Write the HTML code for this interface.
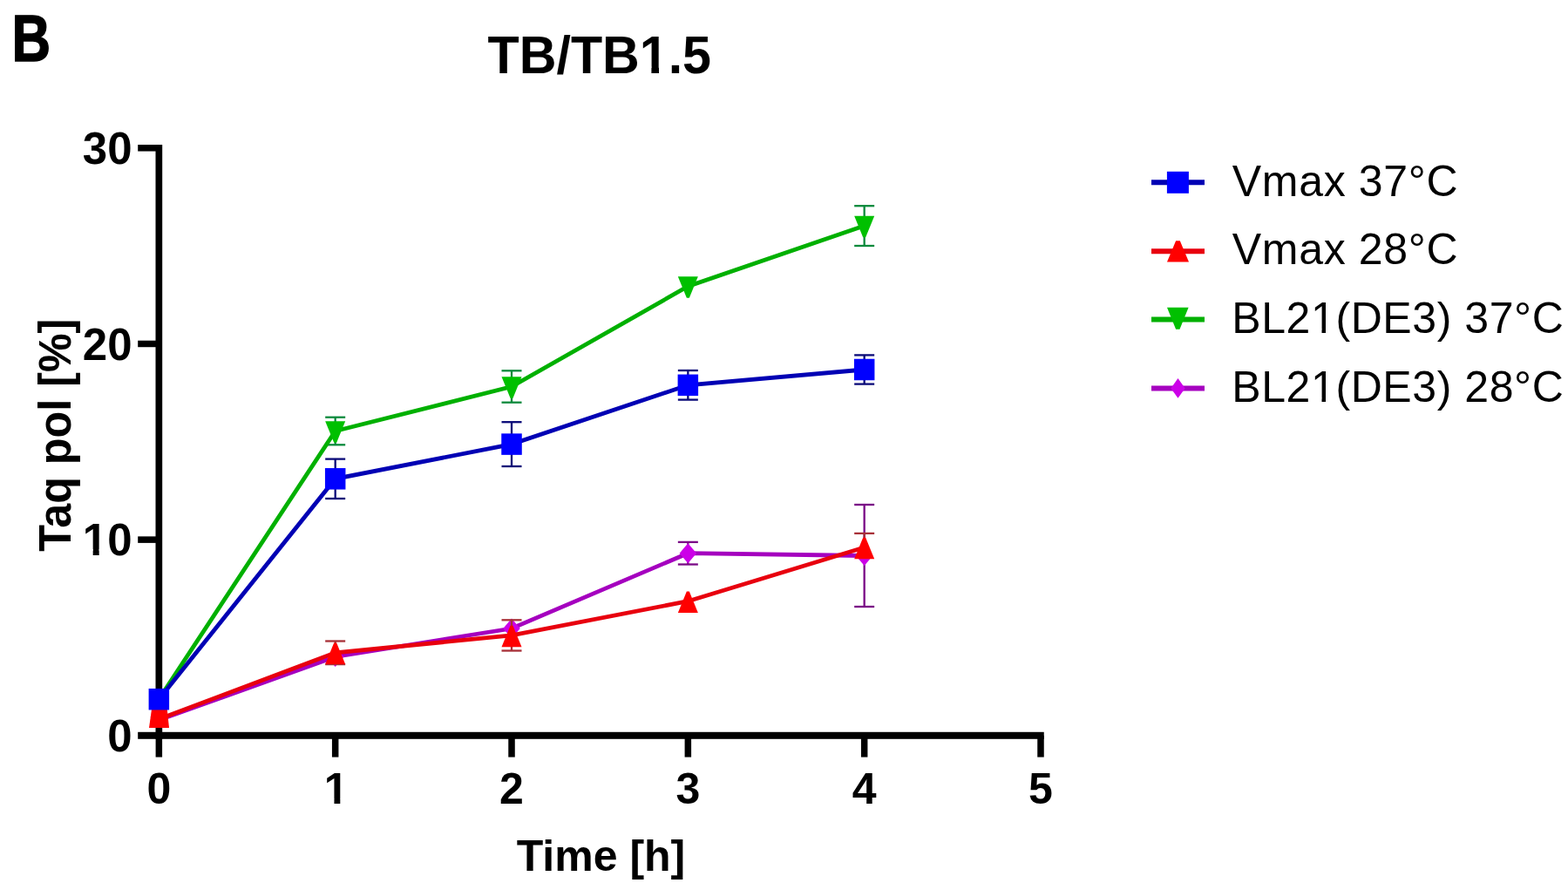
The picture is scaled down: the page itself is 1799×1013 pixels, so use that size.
<!DOCTYPE html><html><head><meta charset="utf-8"><title>TB/TB1.5</title><style>
html,body{margin:0;padding:0;background:#fff;width:1799px;height:1013px;overflow:hidden}
svg{position:absolute;left:0;top:0}
text{font-family:"Liberation Sans", Arial, sans-serif}
</style></head><body>
<svg width="1799" height="1013" viewBox="0 0 1799 1013">
<rect width="1799" height="1013" fill="#fff"/>
<rect x="178.50" y="166.04" width="7.70" height="681.76" fill="#000"/>
<rect x="158.20" y="839.80" width="1039.55" height="8.00" fill="#000"/>
<rect x="158.20" y="615.38" width="24.15" height="7.50" fill="#000"/>
<rect x="158.20" y="390.71" width="24.15" height="7.50" fill="#000"/>
<rect x="158.20" y="166.04" width="24.15" height="7.50" fill="#000"/>
<rect x="178.60" y="843.80" width="7.50" height="24.80" fill="#000"/>
<rect x="380.93" y="843.80" width="7.50" height="24.80" fill="#000"/>
<rect x="583.26" y="843.80" width="7.50" height="24.80" fill="#000"/>
<rect x="785.59" y="843.80" width="7.50" height="24.80" fill="#000"/>
<rect x="987.92" y="843.80" width="7.50" height="24.80" fill="#000"/>
<rect x="1190.25" y="843.80" width="7.50" height="24.80" fill="#000"/>
<g stroke="#7a0a86" stroke-width="2.30" fill="none">
<line x1="789.34" y1="621.90" x2="789.34" y2="647.50"/>
<line x1="777.84" y1="621.90" x2="800.84" y2="621.90"/>
<line x1="777.84" y1="647.50" x2="800.84" y2="647.50"/>
</g>
<g stroke="#7a0a86" stroke-width="2.30" fill="none">
<line x1="991.67" y1="579.00" x2="991.67" y2="696.00"/>
<line x1="980.17" y1="579.00" x2="1003.17" y2="579.00"/>
<line x1="980.17" y1="696.00" x2="1003.17" y2="696.00"/>
</g>
<polyline points="182.35,826.00 384.68,753.50 587.01,721.00 789.34,634.70 991.67,637.50" fill="none" stroke="#a500bf" stroke-width="4.80" stroke-linejoin="miter"/>
<polygon points="182.35,811.00 192.10,822.50 182.35,834.00 172.60,822.50" fill="#cc00e8"/>
<polygon points="384.68,742.00 394.43,753.50 384.68,765.00 374.93,753.50" fill="#cc00e8"/>
<polygon points="587.01,709.50 596.76,721.00 587.01,732.50 577.26,721.00" fill="#cc00e8"/>
<polygon points="789.34,623.20 799.09,634.70 789.34,646.20 779.59,634.70" fill="#cc00e8"/>
<polygon points="991.67,626.00 1001.42,637.50 991.67,649.00 981.92,637.50" fill="#cc00e8"/>
<g stroke="#0b8a3c" stroke-width="2.30" fill="none">
<line x1="384.68" y1="478.70" x2="384.68" y2="510.30"/>
<line x1="373.18" y1="478.70" x2="396.18" y2="478.70"/>
<line x1="373.18" y1="510.30" x2="396.18" y2="510.30"/>
</g>
<g stroke="#0b8a3c" stroke-width="2.30" fill="none">
<line x1="587.01" y1="425.30" x2="587.01" y2="461.70"/>
<line x1="575.51" y1="425.30" x2="598.51" y2="425.30"/>
<line x1="575.51" y1="461.70" x2="598.51" y2="461.70"/>
</g>
<g stroke="#0b8a3c" stroke-width="2.30" fill="none">
<line x1="991.67" y1="236.20" x2="991.67" y2="282.00"/>
<line x1="980.17" y1="236.20" x2="1003.17" y2="236.20"/>
<line x1="980.17" y1="282.00" x2="1003.17" y2="282.00"/>
</g>
<polyline points="182.35,802.00 384.68,494.50 587.01,443.50 789.34,328.50 991.67,259.10" fill="none" stroke="#00b000" stroke-width="4.80" stroke-linejoin="miter"/>
<polygon points="170.85,790.75 193.85,790.75 183.85,815.25 180.85,815.25" fill="#00c000"/>
<polygon points="373.18,483.25 396.18,483.25 386.18,507.75 383.18,507.75" fill="#00c000"/>
<polygon points="575.51,432.25 598.51,432.25 588.51,456.75 585.51,456.75" fill="#00c000"/>
<polygon points="777.84,317.25 800.84,317.25 790.84,341.75 787.84,341.75" fill="#00c000"/>
<polygon points="980.17,247.85 1003.17,247.85 993.17,272.35 990.17,272.35" fill="#00c000"/>
<g stroke="#a83038" stroke-width="2.30" fill="none">
<line x1="384.68" y1="735.50" x2="384.68" y2="762.10"/>
<line x1="373.18" y1="735.50" x2="396.18" y2="735.50"/>
<line x1="373.18" y1="762.10" x2="396.18" y2="762.10"/>
</g>
<g stroke="#a83038" stroke-width="2.30" fill="none">
<line x1="587.01" y1="711.30" x2="587.01" y2="746.50"/>
<line x1="575.51" y1="711.30" x2="598.51" y2="711.30"/>
<line x1="575.51" y1="746.50" x2="598.51" y2="746.50"/>
</g>
<g stroke="#a83038" stroke-width="2.30" fill="none">
<line x1="991.67" y1="611.90" x2="991.67" y2="633.00"/>
<line x1="980.17" y1="611.90" x2="1003.17" y2="611.90"/>
</g>
<polyline points="182.35,825.00 384.68,748.80 587.01,728.90 789.34,689.70 991.67,628.00" fill="none" stroke="#e8000e" stroke-width="4.80" stroke-linejoin="miter"/>
<polygon points="174.0,813.8 191.8,813.8 194.0,835.0 171.0,835.0" fill="#ff0000"/>
<polygon points="383.18,737.55 386.18,737.55 396.18,762.05 373.18,762.05" fill="#ff0000"/>
<polygon points="585.51,717.65 588.51,717.65 598.51,742.15 575.51,742.15" fill="#ff0000"/>
<polygon points="787.84,678.45 790.84,678.45 800.84,702.95 777.84,702.95" fill="#ff0000"/>
<polygon points="990.17,616.75 993.17,616.75 1003.17,641.25 980.17,641.25" fill="#ff0000"/>
<g stroke="#0a0a78" stroke-width="2.30" fill="none">
<line x1="384.68" y1="526.60" x2="384.68" y2="572.00"/>
<line x1="373.18" y1="526.60" x2="396.18" y2="526.60"/>
<line x1="373.18" y1="572.00" x2="396.18" y2="572.00"/>
</g>
<g stroke="#0a0a78" stroke-width="2.30" fill="none">
<line x1="587.01" y1="484.20" x2="587.01" y2="535.00"/>
<line x1="575.51" y1="484.20" x2="598.51" y2="484.20"/>
<line x1="575.51" y1="535.00" x2="598.51" y2="535.00"/>
</g>
<g stroke="#0a0a78" stroke-width="2.30" fill="none">
<line x1="789.34" y1="425.00" x2="789.34" y2="458.60"/>
<line x1="777.84" y1="425.00" x2="800.84" y2="425.00"/>
<line x1="777.84" y1="458.60" x2="800.84" y2="458.60"/>
</g>
<g stroke="#0a0a78" stroke-width="2.30" fill="none">
<line x1="991.67" y1="407.40" x2="991.67" y2="440.60"/>
<line x1="980.17" y1="407.40" x2="1003.17" y2="407.40"/>
<line x1="980.17" y1="440.60" x2="1003.17" y2="440.60"/>
</g>
<polyline points="182.35,802.20 384.68,549.30 587.01,509.60 789.34,441.80 991.67,424.00" fill="none" stroke="#0000b4" stroke-width="4.80" stroke-linejoin="miter"/>
<rect x="170.60" y="789.95" width="23.50" height="24.50" fill="#0000ff"/>
<rect x="372.93" y="537.05" width="23.50" height="24.50" fill="#0000ff"/>
<rect x="575.26" y="497.35" width="23.50" height="24.50" fill="#0000ff"/>
<rect x="777.59" y="429.55" width="23.50" height="24.50" fill="#0000ff"/>
<rect x="979.92" y="411.75" width="23.50" height="24.50" fill="#0000ff"/>
<text x="151.50" y="862.10" font-size="51" font-weight="bold" text-anchor="end">0</text>
<text x="151.50" y="637.43" font-size="51" font-weight="bold" text-anchor="end">10</text>
<text x="151.50" y="412.76" font-size="51" font-weight="bold" text-anchor="end">20</text>
<text x="151.50" y="188.09" font-size="51" font-weight="bold" text-anchor="end">30</text>
<text x="182.35" y="922.40" font-size="50" font-weight="bold" text-anchor="middle">0</text>
<text x="385.68" y="922.40" font-size="50" font-weight="bold" text-anchor="middle">1</text>
<text x="587.01" y="922.40" font-size="50" font-weight="bold" text-anchor="middle">2</text>
<text x="789.34" y="922.40" font-size="50" font-weight="bold" text-anchor="middle">3</text>
<text x="991.67" y="922.40" font-size="50" font-weight="bold" text-anchor="middle">4</text>
<text x="1194.00" y="922.40" font-size="50" font-weight="bold" text-anchor="middle">5</text>
<text transform="translate(13.5,70.3) scale(0.835,1.028)" font-size="74" font-weight="bold" stroke="#000" stroke-width="1.3" vector-effect="non-scaling-stroke">B</text>
<text x="687.8" y="84.2" font-size="60.5" font-weight="bold" text-anchor="middle" textLength="256.5" lengthAdjust="spacingAndGlyphs">TB/TB1.5</text>
<text x="689.5" y="998.7" font-size="50" font-weight="bold" text-anchor="middle">Time [h]</text>
<text transform="translate(80.7,499.2) rotate(-90)" font-size="51" font-weight="bold" text-anchor="middle" textLength="267" lengthAdjust="spacingAndGlyphs">Taq pol [%]</text>
<line x1="1321" y1="209.30" x2="1382" y2="209.30" stroke="#0000b4" stroke-width="6.00"/>
<rect x="1338.90" y="196.80" width="25" height="25" fill="#0000ff"/>
<text x="1413.80" y="224.50" font-size="50" textLength="258.80" lengthAdjust="spacing">Vmax 37°C</text>
<line x1="1321" y1="288.20" x2="1382" y2="288.20" stroke="#e8000e" stroke-width="6.00"/>
<polygon points="1349.1,276.20 1353.8,276.20 1364.0,300.60 1339.0,300.60" fill="#ff0000"/>
<text x="1413.80" y="303.40" font-size="50" textLength="258.80" lengthAdjust="spacing">Vmax 28°C</text>
<line x1="1321" y1="366.40" x2="1382" y2="366.40" stroke="#00b000" stroke-width="6.00"/>
<polygon points="1339.0,352.80 1363.6,352.80 1353.5,377.80 1349.1,377.80" fill="#00c000"/>
<text x="1413.30" y="381.60" font-size="50" textLength="380.50" lengthAdjust="spacing">BL21(DE3) 37°C</text>
<line x1="1321" y1="445.40" x2="1382" y2="445.40" stroke="#a500bf" stroke-width="6.00"/>
<polygon points="1351.5,434.00 1359.6,445.40 1351.5,456.80 1343.4,445.40" fill="#cc00e8"/>
<text x="1413.30" y="460.60" font-size="50" textLength="380.50" lengthAdjust="spacing">BL21(DE3) 28°C</text>
<rect x="373.73" y="916.70" width="9.72" height="6.50" fill="#fff"/>
<rect x="390.31" y="916.70" width="9.29" height="6.50" fill="#fff"/>
<rect x="96.98" y="630.03" width="9.69" height="8.20" fill="#fff"/>
<rect x="113.67" y="630.03" width="8.64" height="8.20" fill="#fff"/>
<rect x="734.60" y="76.60" width="12.80" height="8.20" fill="#fff"/>
<rect x="756.00" y="76.60" width="10.60" height="8.20" fill="#fff"/>
<rect x="1506.50" y="377.60" width="10.00" height="5.10" fill="#fff"/>
<rect x="1521.00" y="377.60" width="9.40" height="5.10" fill="#fff"/>
<rect x="1506.50" y="456.70" width="10.00" height="5.10" fill="#fff"/>
<rect x="1521.00" y="456.70" width="9.40" height="5.10" fill="#fff"/>
</svg></body></html>
